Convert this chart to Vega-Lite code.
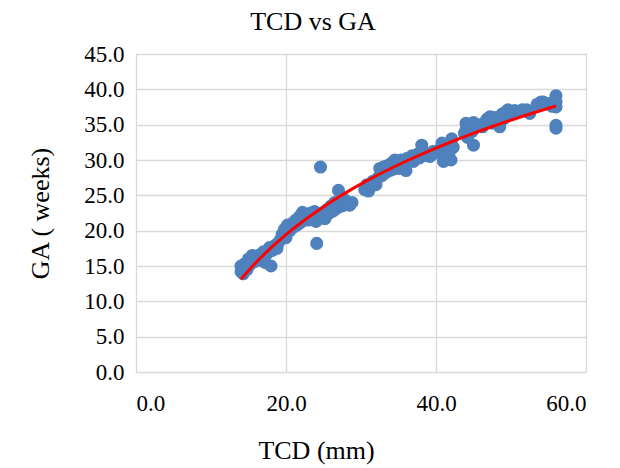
{
  "$schema": "https://vega.github.io/schema/vega-lite/v6.json",
  "width": 450,
  "height": 318,
  "autosize": "none",
  "padding": {"left": 136, "top": 54, "right": 34, "bottom": 96},
  "background": "white",
  "title": {"text": "TCD vs GA", "font": "Liberation Serif", "fontSize": 26, "fontWeight": "normal", "color": "#000000", "offset": 8, "dx": -48},
  "data": {"values": [
    {"TCD":14.0,"GA":14.2},{"TCD":14.0,"GA":15.0},{"TCD":14.2,"GA":14.6},{"TCD":14.3,"GA":13.9},{"TCD":14.5,"GA":15.3},{"TCD":14.8,"GA":14.5},{"TCD":15.0,"GA":16.0},{"TCD":15.2,"GA":15.2},{"TCD":15.5,"GA":16.5},{"TCD":15.8,"GA":15.6},{"TCD":16.0,"GA":16.3},{"TCD":16.3,"GA":15.8},{"TCD":16.5,"GA":16.6},{"TCD":16.8,"GA":16.1},{"TCD":17.0,"GA":17.0},{"TCD":17.2,"GA":15.5},{"TCD":17.5,"GA":16.8},{"TCD":17.8,"GA":17.6},{"TCD":18.0,"GA":15.0},{"TCD":18.2,"GA":17.2},{"TCD":18.5,"GA":17.9},{"TCD":18.8,"GA":17.5},{"TCD":19.0,"GA":18.3},{"TCD":19.3,"GA":18.8},
    {"TCD":19.5,"GA":19.5},{"TCD":19.8,"GA":20.2},{"TCD":20.0,"GA":19.0},{"TCD":20.2,"GA":20.8},{"TCD":20.5,"GA":20.0},{"TCD":20.8,"GA":21.0},{"TCD":21.0,"GA":20.5},{"TCD":21.3,"GA":21.5},{"TCD":21.5,"GA":20.8},{"TCD":21.8,"GA":22.0},{"TCD":22.0,"GA":21.2},{"TCD":22.2,"GA":22.6},{"TCD":22.5,"GA":21.8},{"TCD":22.8,"GA":22.3},{"TCD":23.0,"GA":21.5},{"TCD":23.3,"GA":22.5},{"TCD":23.5,"GA":21.9},{"TCD":23.8,"GA":22.7},{"TCD":24.0,"GA":21.3},{"TCD":24.1,"GA":18.2},{"TCD":24.3,"GA":22.4},{"TCD":24.6,"GA":29.0},{"TCD":24.6,"GA":21.8},{"TCD":25.0,"GA":22.6},
    {"TCD":25.2,"GA":21.7},{"TCD":25.5,"GA":23.0},{"TCD":25.8,"GA":22.5},{"TCD":26.0,"GA":23.5},{"TCD":26.3,"GA":22.8},{"TCD":26.5,"GA":24.0},{"TCD":26.8,"GA":23.2},{"TCD":27.0,"GA":25.7},{"TCD":27.2,"GA":24.0},{"TCD":27.5,"GA":23.5},{"TCD":27.8,"GA":24.4},{"TCD":28.0,"GA":23.8},{"TCD":28.5,"GA":23.6},{"TCD":28.8,"GA":24.0},{"TCD":30.5,"GA":25.8},{"TCD":30.8,"GA":26.5},{"TCD":31.0,"GA":25.6},{"TCD":31.3,"GA":26.2},{"TCD":31.6,"GA":27.0},{"TCD":32.0,"GA":26.5},
    {"TCD":32.3,"GA":27.5},{"TCD":32.5,"GA":28.8},{"TCD":32.8,"GA":27.8},{"TCD":33.0,"GA":29.0},{"TCD":33.3,"GA":28.2},{"TCD":33.5,"GA":29.2},{"TCD":33.8,"GA":28.5},{"TCD":34.0,"GA":29.5},{"TCD":34.3,"GA":28.7},{"TCD":34.5,"GA":30.0},{"TCD":34.8,"GA":29.3},{"TCD":35.0,"GA":28.8},{"TCD":35.3,"GA":30.0},{"TCD":35.6,"GA":29.5},{"TCD":36.0,"GA":28.5},{"TCD":36.1,"GA":30.2},{"TCD":36.5,"GA":30.0},{"TCD":36.8,"GA":30.6},{"TCD":37.0,"GA":29.8},{"TCD":37.5,"GA":30.8},{"TCD":37.8,"GA":30.3},{"TCD":38.1,"GA":32.1},{"TCD":38.3,"GA":31.0},{"TCD":38.8,"GA":30.6},{"TCD":39.2,"GA":30.5},{"TCD":39.6,"GA":31.2},{"TCD":40.0,"GA":31.0},
    {"TCD":40.5,"GA":31.5},{"TCD":40.8,"GA":32.4},{"TCD":41.0,"GA":29.8},{"TCD":41.2,"GA":31.0},{"TCD":41.4,"GA":30.2},{"TCD":41.5,"GA":32.0},{"TCD":41.8,"GA":31.2},{"TCD":42.0,"GA":30.0},{"TCD":42.1,"GA":33.0},{"TCD":42.0,"GA":32.5},{"TCD":42.3,"GA":31.8},{"TCD":43.8,"GA":33.8},{"TCD":44.0,"GA":35.2},{"TCD":44.0,"GA":34.3},{"TCD":44.2,"GA":33.2},{"TCD":44.5,"GA":35.0},{"TCD":44.8,"GA":34.0},{"TCD":45.0,"GA":32.1},{"TCD":45.0,"GA":35.3},{"TCD":45.3,"GA":34.6},
    {"TCD":45.8,"GA":35.0},{"TCD":46.2,"GA":34.7},{"TCD":46.5,"GA":35.3},{"TCD":46.8,"GA":35.8},{"TCD":47.2,"GA":36.1},{"TCD":47.5,"GA":35.2},{"TCD":47.8,"GA":36.0},{"TCD":48.2,"GA":35.5},{"TCD":48.5,"GA":34.7},{"TCD":48.8,"GA":36.5},{"TCD":49.0,"GA":35.8},{"TCD":49.3,"GA":36.8},{"TCD":49.6,"GA":37.1},{"TCD":50.0,"GA":36.6},{"TCD":50.5,"GA":37.0},{"TCD":51.0,"GA":36.8},{"TCD":51.5,"GA":37.1},{"TCD":52.1,"GA":37.1},{"TCD":52.5,"GA":36.6},{"TCD":53.5,"GA":37.9},{"TCD":54.0,"GA":38.2},{"TCD":54.3,"GA":38.2},{"TCD":55.0,"GA":38.0},{"TCD":55.5,"GA":37.6},{"TCD":56.0,"GA":39.1},{"TCD":56.0,"GA":37.5},{"TCD":56.0,"GA":38.2},{"TCD":56.0,"GA":34.9},{"TCD":56.0,"GA":34.5}
  ]},
  "encoding": {
    "x": {"field": "TCD", "type": "quantitative", "scale": {"domain": [0, 60], "nice": false, "zero": false},
          "axis": {"values": [0, 20, 40, 60], "format": ".1f", "title": "TCD (mm)", "labelPadding": 20, "titlePadding": 22, "titleX": 180}},
    "y": {"field": "GA", "type": "quantitative", "scale": {"domain": [0, 45], "nice": false},
          "axis": {"values": [0, 5, 10, 15, 20, 25, 30, 35, 40, 45], "format": ".1f", "title": "GA ( weeks)", "labelPadding": 12, "titlePadding": 30}}
  },
  "layer": [
    {
      "mark": {"type": "circle", "size": 170, "color": "#4f81bd", "opacity": 1}
    },
    {
      "transform": [{"regression": "GA", "on": "TCD", "method": "log"}],
      "mark": {"type": "line", "color": "#ff0000", "strokeWidth": 3}
    }
  ],
  "config": {
    "view": {"stroke": "#d9d9d9", "strokeWidth": 1},
    "axis": {
      "labelFont": "Liberation Serif", "labelFontSize": 23, "labelColor": "#000000", "labelOverlap": false,
      "titleFont": "Liberation Serif", "titleFontSize": 26, "titleFontWeight": "normal", "titleColor": "#000000",
      "grid": true, "gridColor": "#d9d9d9", "gridWidth": 1.3,
      "domain": false, "ticks": false
    }
  }
}
